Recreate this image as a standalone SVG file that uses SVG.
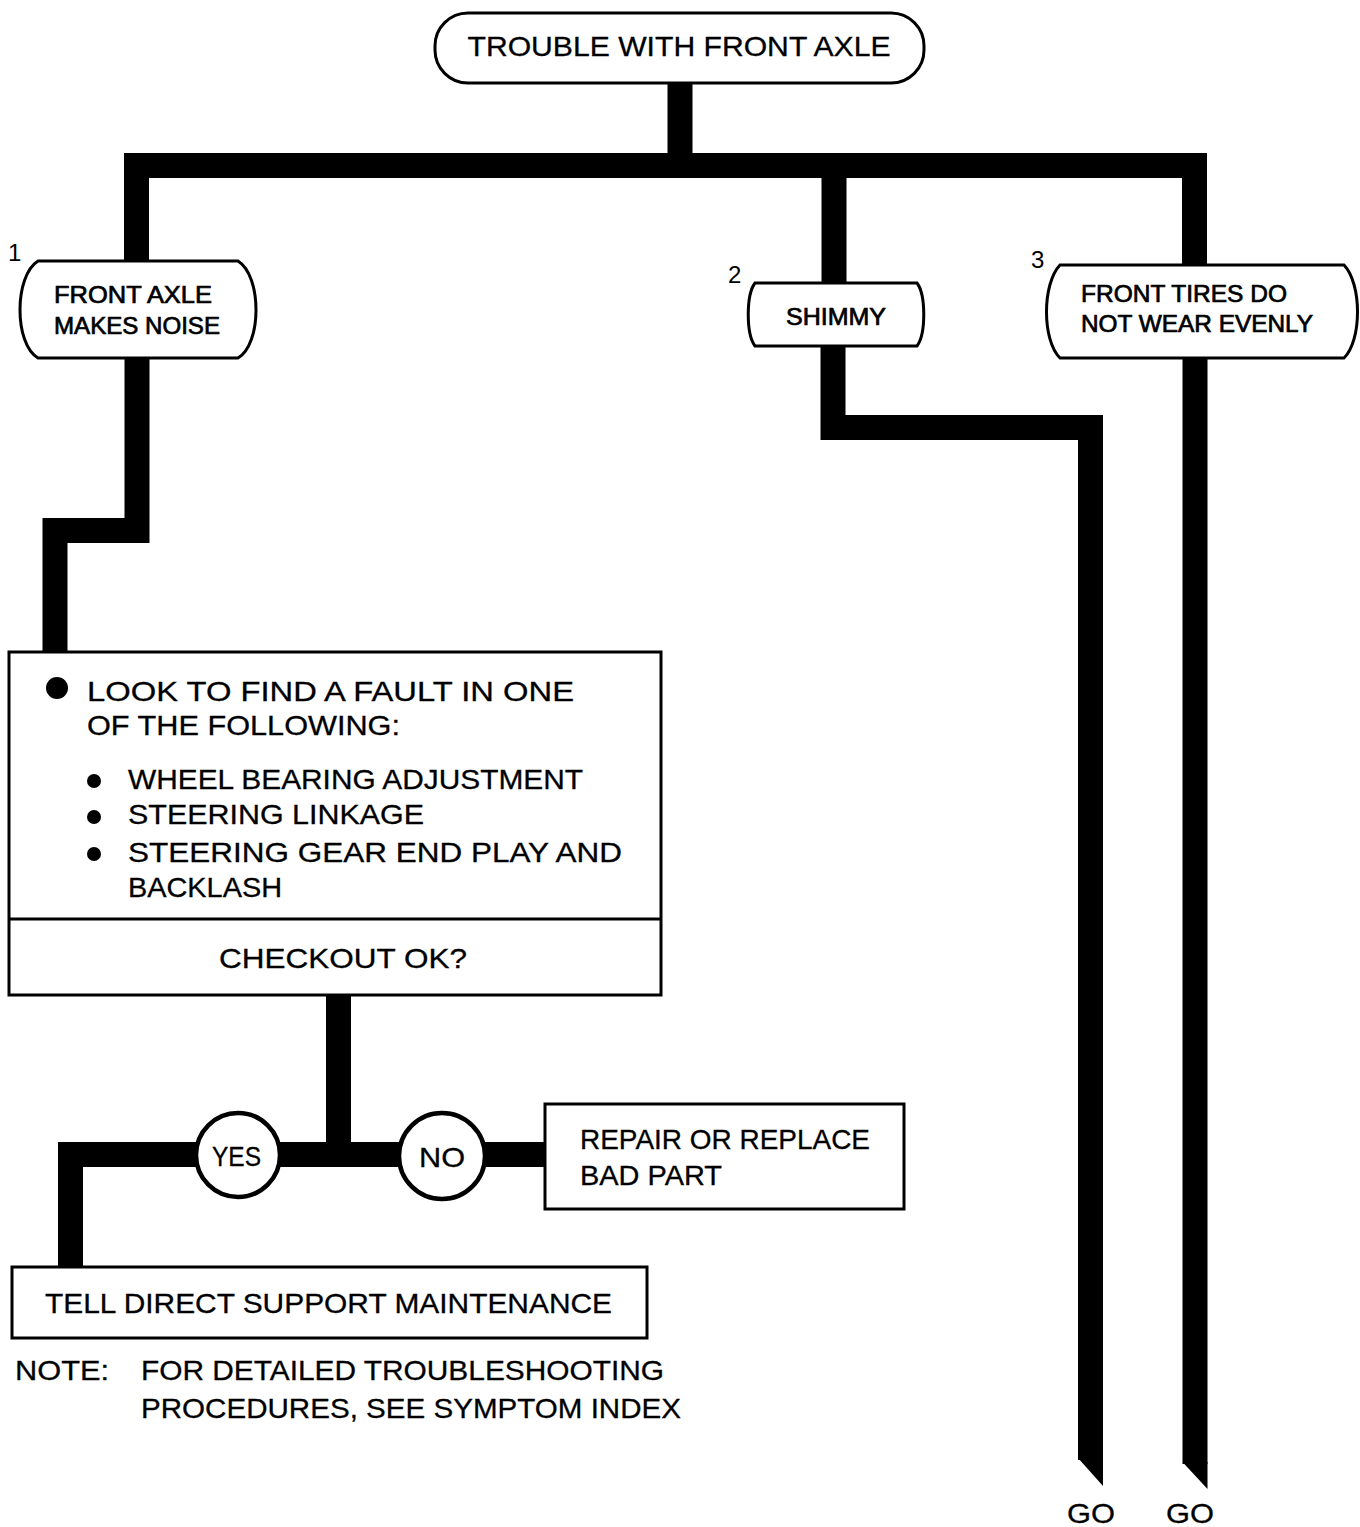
<svg xmlns="http://www.w3.org/2000/svg" width="1360" height="1527" viewBox="0 0 1360 1527">
<style>
.bg{fill:#fff}
.node{fill:#fff;stroke:#000;stroke-width:3}
.circ{fill:#fff;stroke:#000;stroke-width:4.5}
.conn{fill:none;stroke:#000;stroke-width:25;stroke-linejoin:miter;stroke-linecap:butt}
.tip{fill:#000;stroke:none}
.t{font-family:"Liberation Sans",Arial,sans-serif;fill:#000;font-size:28px;stroke:#000;stroke-width:0.3}
.h{font-family:"Liberation Sans",Arial,sans-serif;fill:#000;font-size:24px;stroke:#000;stroke-width:0.7}
.n{font-family:"Liberation Sans",Arial,sans-serif;fill:#000;font-size:24px}
</style>
<rect class="bg" x="0" y="0" width="1360" height="1527"/>
<g id="connectors">
<path class="conn" d="M680 83 V165.5"/>
<path class="conn" d="M136.5 261 V165.5 H1194.5 V265"/>
<path class="conn" d="M834 178 V283"/>
<path class="conn" d="M833 346 V427.5 H1090.5 V1460"/>
<polygon class="tip" points="1078,1458 1103,1458 1103,1486"/>
<path class="conn" d="M1195 358 V1464"/>
<polygon class="tip" points="1182.5,1462 1207.5,1462 1207.5,1489"/>
<path class="conn" d="M137 358 V530.5 H55 V652"/>
<path class="conn" d="M338.5 995 V1154.5"/>
<path class="conn" d="M70.5 1268 V1154.5 H546"/>
</g>
<g id="start">
<rect class="node" x="435" y="13" width="489" height="70" rx="33" ry="33"/>
<text class="t" x="679" y="56" text-anchor="middle" textLength="423" lengthAdjust="spacingAndGlyphs">TROUBLE WITH FRONT AXLE</text>
</g>
<g id="node1">
<path class="node" d="M38 261 H238 C262 276 262 344 238 358 H38 C14 344 14 276 38 261 Z"/>
<text class="n" x="8" y="261">1</text>
<text class="h" x="54" y="303" textLength="158" lengthAdjust="spacingAndGlyphs">FRONT AXLE</text>
<text class="h" x="54" y="334" textLength="166" lengthAdjust="spacingAndGlyphs">MAKES NOISE</text>
</g>
<g id="node2">
<path class="node" d="M755 283 H917 C926 295 926 334 917 346 H755 C746 334 746 295 755 283 Z"/>
<text class="n" x="728" y="283">2</text>
<text class="h" x="786" y="325" textLength="100" lengthAdjust="spacingAndGlyphs">SHIMMY</text>
</g>
<g id="node3">
<path class="node" d="M1060 265 H1344 C1362 284 1362 340 1344 358 H1060 C1042 340 1042 284 1060 265 Z"/>
<text class="n" x="1031" y="268">3</text>
<text class="h" x="1081" y="302" textLength="206" lengthAdjust="spacingAndGlyphs">FRONT TIRES DO</text>
<text class="h" x="1081" y="332" textLength="232" lengthAdjust="spacingAndGlyphs">NOT WEAR EVENLY</text>
</g>
<g id="check">
<rect class="node" x="9" y="652" width="652" height="343"/>
<line x1="9" y1="919" x2="661" y2="919" stroke="#000" stroke-width="3"/>
<circle cx="57" cy="688" r="11" fill="#000"/>
<text class="t" x="87" y="701" textLength="487" lengthAdjust="spacingAndGlyphs">LOOK TO FIND A FAULT IN ONE</text>
<text class="t" x="87" y="735" textLength="313" lengthAdjust="spacingAndGlyphs">OF THE FOLLOWING:</text>
<circle cx="94" cy="781" r="7" fill="#000"/>
<circle cx="94" cy="817" r="7" fill="#000"/>
<circle cx="94" cy="854" r="7" fill="#000"/>
<text class="t" x="128" y="789" textLength="455" lengthAdjust="spacingAndGlyphs">WHEEL BEARING ADJUSTMENT</text>
<text class="t" x="128" y="824" textLength="296" lengthAdjust="spacingAndGlyphs">STEERING LINKAGE</text>
<text class="t" x="128" y="862" textLength="494" lengthAdjust="spacingAndGlyphs">STEERING GEAR END PLAY AND</text>
<text class="t" x="128" y="897" textLength="154" lengthAdjust="spacingAndGlyphs">BACKLASH</text>
<text class="t" x="219" y="968" textLength="248" lengthAdjust="spacingAndGlyphs">CHECKOUT OK?</text>
</g>
<g id="yes">
<circle class="circ" cx="238" cy="1155" r="42"/>
<text class="t" x="212" y="1166" textLength="49" lengthAdjust="spacingAndGlyphs">YES</text>
</g>
<g id="no">
<circle class="circ" cx="442" cy="1156" r="43"/>
<text class="t" x="419" y="1167" textLength="46" lengthAdjust="spacingAndGlyphs">NO</text>
</g>
<g id="repair">
<rect class="node" x="545" y="1104" width="359" height="105"/>
<text class="t" x="580" y="1149" textLength="290" lengthAdjust="spacingAndGlyphs">REPAIR OR REPLACE</text>
<text class="t" x="580" y="1185" textLength="142" lengthAdjust="spacingAndGlyphs">BAD PART</text>
</g>
<g id="tell">
<rect class="node" x="12" y="1267" width="635" height="71"/>
<text class="t" x="45" y="1313" textLength="567" lengthAdjust="spacingAndGlyphs">TELL DIRECT SUPPORT MAINTENANCE</text>
</g>
<g id="note">
<text class="t" x="15" y="1380" textLength="94" lengthAdjust="spacingAndGlyphs">NOTE:</text>
<text class="t" x="141" y="1380" textLength="523" lengthAdjust="spacingAndGlyphs">FOR DETAILED TROUBLESHOOTING</text>
<text class="t" x="141" y="1418" textLength="540" lengthAdjust="spacingAndGlyphs">PROCEDURES, SEE SYMPTOM INDEX</text>
</g>
<g id="go1">
<text class="t" x="1067" y="1523" textLength="48" lengthAdjust="spacingAndGlyphs">GO</text>
</g>
<g id="go2">
<text class="t" x="1166" y="1523" textLength="48" lengthAdjust="spacingAndGlyphs">GO</text>
</g>
</svg>
